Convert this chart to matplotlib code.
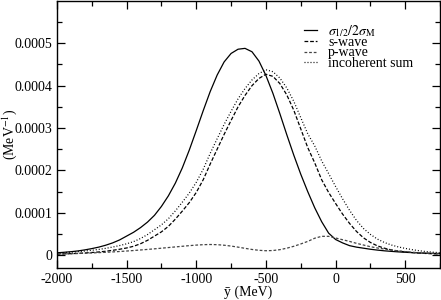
import numpy as np
import matplotlib
matplotlib.use("Agg")
import matplotlib.pyplot as plt
from matplotlib.ticker import MultipleLocator, FixedLocator, FuncFormatter

plt.rcParams['font.family'] = ['Liberation Serif', 'DejaVu Serif']
plt.rcParams['mathtext.fontset'] = 'stix'
plt.rcParams['axes.unicode_minus'] = False

# energy grid (MeV)
y_bar = list(range(-2000, 751, 50))

# values in units of 1e-6 MeV^-1
ratio = [5.6, 6.8, 8.2, 10, 12.5, 15.5, 19, 23.5, 29, 36,
         45, 54, 65, 78, 94, 115, 140, 170, 206, 248,
         294, 341, 386, 425, 456, 476, 486, 488, 480, 458,
         424, 382, 334, 284, 236, 191, 150, 112, 79, 52,
         37, 29, 22.5, 19, 16.5, 14, 12, 10.3, 9, 7.8,
         6.8, 6, 5.3, 4.7, 4.2, 3.8]

s_wave = [2.5, 3, 3.6, 4.3, 5.2, 6.3, 7.6, 9.3, 11.5, 14,
          17, 21, 27, 35, 45, 55, 68, 85, 104, 124,
          148, 178, 215, 250, 285, 318, 350, 377, 400, 417,
          427, 422, 405, 378, 342, 298, 254, 218, 178, 148,
          122, 97, 75, 56, 41, 30, 22, 16.5, 12.5, 9.8,
          7.8, 6.2, 5, 4, 3.3, 2.8]

p_wave = [2.5, 3, 3.5, 4, 4.6, 5.3, 6, 6.8, 7.7, 8.7,
          9.8, 11, 12.3, 13.6, 15, 16.5, 18, 19.5, 21, 22.5,
          23.8, 24.8, 25.2, 24.8, 23.5, 21.5, 19, 16.2, 13.5, 11.5,
          10.5, 11, 13, 16.5, 21, 26.5, 32.5, 40, 44.5, 44.5,
          40.5, 36.5, 32.5, 28, 24, 20, 17, 14.5, 12, 10,
          8.4, 7, 5.8, 4.9, 4.2, 3.6]

incoherent = [5.0, 6.0, 7.1, 8.3, 9.8, 11.6, 13.6, 16.1, 19.2, 22.7,
              26.8, 32, 39.3, 48.6, 60, 71.5, 86, 104.5, 125, 146.5,
              171.8, 202.8, 240.2, 274.8, 308.5, 339.5, 369, 393.2, 413.5, 428.5,
              437.5, 433, 418, 394.5, 363, 324.5, 286.5, 258, 222.5, 192.5,
              162, 133, 106, 82, 63, 49, 38, 30, 24, 19.5,
              16, 13, 10.5, 8.5, 7, 5.8]

labels = [r'$\sigma_{1/2}/2\sigma_{\mathrm{M}}$', 's-wave', 'p-wave', 'incoherent sum']
y_ticks = [0, 0.0001, 0.0002, 0.0003, 0.0004, 0.0005]

x = np.array(y_bar)
scale = 1e-6

fig = plt.figure(figsize=(4.41, 3.00), dpi=100)
ax = fig.add_axes([0.129, 0.107, 0.869, 0.89])

lw = 0.9
ax.plot(x, np.array(ratio) * scale, color='black', lw=lw, label=labels[0])
ax.plot(x, np.array(s_wave) * scale, color='black', lw=lw, dashes=(3.0, 1.5), label=labels[1])
ax.plot(x, np.array(p_wave) * scale, color='#444444', lw=lw, dashes=(2.2, 1.5), label=labels[2])
ax.plot(x, np.array(incoherent) * scale, color='black', lw=lw, dashes=(0.8, 1.6), label=labels[3])

ax.set_xlim(-2000, 750)
ax.set_ylim(-0.00003, 0.0006)

ax.xaxis.set_major_locator(MultipleLocator(500))
ax.xaxis.set_minor_locator(MultipleLocator(250))
ax.yaxis.set_major_locator(FixedLocator(y_ticks))
ax.yaxis.set_minor_locator(FixedLocator([0.00005, 0.00015, 0.00025, 0.00035, 0.00045, 0.00055]))

ax.yaxis.set_major_formatter(FuncFormatter(lambda v, p: '0' if abs(v) < 1e-12 else f'{v:.4f}'))
ax.xaxis.set_major_formatter(FuncFormatter(lambda v, p: f'{int(round(v))}'))

ax.tick_params(which='both', direction='in', top=True, right=True, labelsize=10, width=0.9)
ax.tick_params(which='major', length=6)
ax.tick_params(which='minor', length=3.5)
for s in ax.spines.values():
    s.set_linewidth(1.0)

ax.set_xlabel('ȳ (MeV)', fontsize=10, labelpad=0)
ax.set_ylabel(r'(MeV$^{-1}$)', fontsize=10)
ax.yaxis.set_label_coords(-0.10, 0.5)

leg = ax.legend(loc='upper right', frameon=False, fontsize=10,
                handlelength=0.95, handletextpad=0.8, labelspacing=-0.2,
                borderaxespad=0.3, bbox_to_anchor=(0.955, 0.953))

fig.savefig('out.png', dpi=100)
